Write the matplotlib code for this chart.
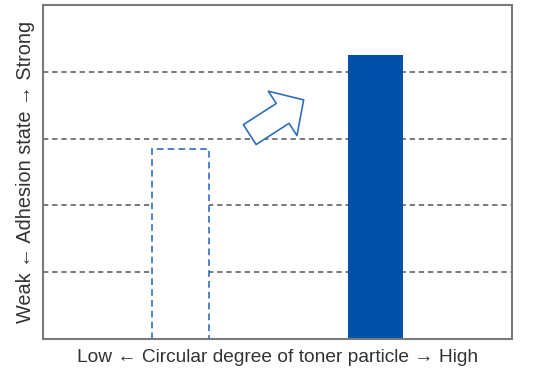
import matplotlib
matplotlib.use("Agg")
import matplotlib.pyplot as plt

categories = ["Low", "High"]
positions = [0, 1]
values = [2.84, 4.25]
grid_levels = [1, 2, 3, 4]

plt.rcParams['font.family'] = ['Liberation Sans', 'DejaVu Sans']

fig = plt.figure(figsize=(5.49, 3.74), dpi=100)
ax = fig.add_axes([0.0783, 0.0936, 0.854, 0.893])

ax.set_xlim(-0.704, 1.70)
ax.set_ylim(0, 5)

for y in grid_levels:
    ax.axhline(y, color="#555555", lw=1.1, ls=(0, (3.5, 2.5)), zorder=1)

ax.bar(positions[0], values[0], width=0.29, facecolor="white",
       edgecolor="#2f6fbf", lw=1.2, ls=(0, (4, 2.5)), zorder=2)
ax.bar(positions[1], values[1], width=0.282, facecolor="#0052a8",
       edgecolor="#0052a8", lw=0, zorder=2)

ax.annotate("", xy=(0.556, 0.716), xytext=(0.441, 0.612),
            xycoords="axes fraction", textcoords="axes fraction",
            arrowprops=dict(arrowstyle="simple,head_length=18,head_width=38,tail_width=17",
                            mutation_scale=1, shrinkA=0, shrinkB=0,
                            fc="white", ec="#2f6fbf", lw=1.2),
            zorder=3)

ax.set_xticks([])
ax.set_yticks([])
for s in ax.spines.values():
    s.set_color("#7a7a7a")
    s.set_linewidth(1.5)

ax.set_xlabel("Low \u2190 Circular degree of toner particle \u2192 High",
              fontsize=13.8, color="#333333", labelpad=7)
ax.set_ylabel("Weak \u2190 Adhesion state \u2192 Strong",
              fontsize=14.3, color="#333333", labelpad=6)

fig.savefig("out.png", dpi=100)
